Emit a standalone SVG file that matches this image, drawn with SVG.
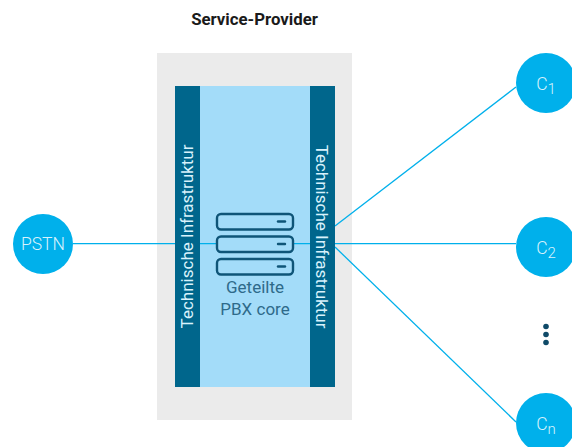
<svg xmlns="http://www.w3.org/2000/svg" width="572" height="447" viewBox="0 0 572 447">
<style>
text{font-family:"Roboto","Noto Sans",sans-serif}
.c{fill:#00b0eb}
.l{fill:#d8f2fc;font-size:17.500px;text-anchor:middle;font-weight:300}
.s{font-size:15px}
.w{stroke:#00b0eb;stroke-width:1.300;fill:none}
.v{fill:#d8f2fc;font-size:17px;text-anchor:middle}
.r{fill:#a3dcf9;stroke:#0f5578;stroke-width:2.400}
.d{stroke:#0f5578;stroke-width:2.400;stroke-linecap:round}
.p{fill:#2e6a8a;font-size:17px;text-anchor:middle}
.b{fill:#00668c}
.k{fill:#0f4a68}
</style>
<rect width="572" height="447" fill="#fff"/>
<g id="provider"><rect x="157" y="53" width="195" height="367" fill="#ebebeb"/>
<text x="254.500" y="25" font-size="16.800" font-weight="700" text-anchor="middle" fill="#1a1a1a">Service-Provider</text></g>
<g id="core"><rect x="200" y="86" width="110" height="301" fill="#a3dcf9"/></g>
<g id="connectors">
<line class="w" x1="73" y1="243.600" x2="516" y2="243.600"/>
<line class="w" x1="335" y1="226" x2="516" y2="87"/>
<line class="w" x1="335" y1="247" x2="516" y2="422"/>
</g>
<g id="infra-left"><rect class="b" x="175" y="86" width="25" height="301"/>
<text class="v" transform="translate(192.500 236.500) rotate(-90)">Technische Infrastruktur</text></g>
<g id="infra-right"><rect class="b" x="310" y="86" width="25" height="301"/>
<text class="v" transform="translate(316 236.500) rotate(90)">Technische Infrastruktur</text></g>
<g id="server">
<rect class="r" x="217" y="214" width="76" height="15.500" rx="4"/><line class="d" x1="278" y1="221.500" x2="285" y2="221.500"/>
<rect class="r" x="217" y="236.500" width="76" height="15.500" rx="4"/><line class="d" x1="278" y1="244" x2="285" y2="244"/>
<rect class="r" x="217" y="259" width="76" height="15.500" rx="4"/><line class="d" x1="278" y1="266.500" x2="285" y2="266.500"/>
<text class="p" x="255" y="293">Geteilte</text>
<text class="p" x="255" y="315">PBX core</text>
</g>
<g id="pstn"><circle class="c" cx="43" cy="244" r="30"/><text class="l" x="43" y="250">PSTN</text></g>
<g id="c1"><circle class="c" cx="546" cy="83" r="30"/><text class="l" x="546" y="90">C<tspan class="s" dy="4">1</tspan></text></g>
<g id="c2"><circle class="c" cx="546" cy="247" r="30"/><text class="l" x="546" y="254">C<tspan class="s" dy="4">2</tspan></text></g>
<g id="cn"><circle class="c" cx="546" cy="423" r="30"/><text class="l" x="546" y="430">C<tspan class="s" dy="4">n</tspan></text></g>
<g id="dots"><circle class="k" cx="546" cy="326.500" r="2.800"/><circle class="k" cx="546" cy="334.500" r="2.800"/><circle class="k" cx="546" cy="342.500" r="2.800"/></g>
</svg>
